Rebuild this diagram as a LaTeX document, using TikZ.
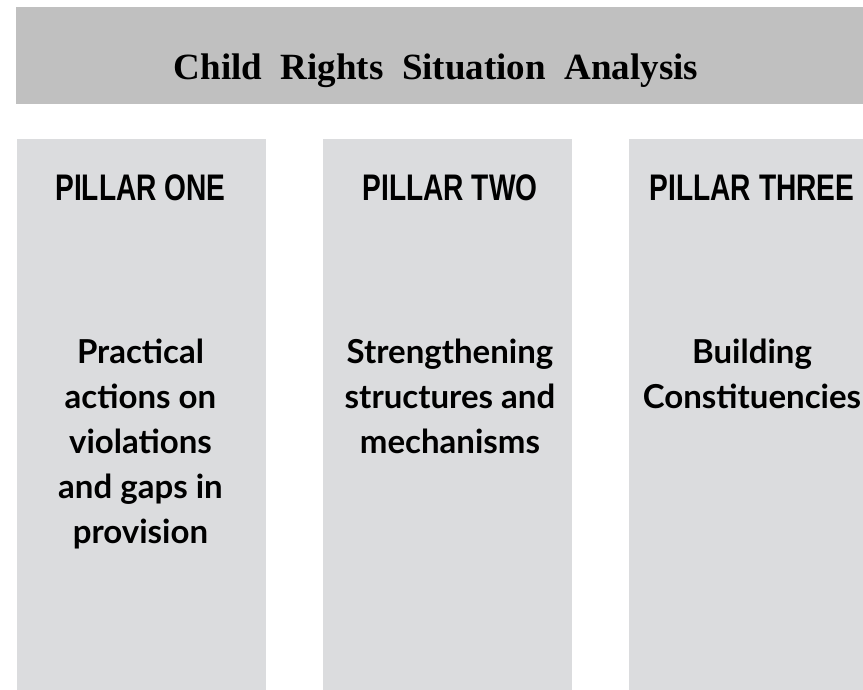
\documentclass[tikz,border=0pt]{standalone}
\usepackage{fontspec}
\usepackage{tikz}
\usetikzlibrary{positioning}
\newfontfamily\titlefont{Liberation Serif}
\newfontfamily\headfont[FakeStretch=0.76]{Liberation Sans}
\newfontfamily\bodyfont{Lato}
\definecolor{bannergray}{HTML}{C0C0C0}
\definecolor{pillargray}{HTML}{DBDCDE}

\begin{document}
\begin{tikzpicture}[x=1pt, y=-1pt,
        banner/.style={rectangle, fill=bannergray, inner sep=0pt, minimum width=864pt, minimum height=97pt},
        pillar/.style={rectangle, fill=pillargray, inner sep=0pt, minimum width=249pt, minimum height=553pt},
        head/.style={inner sep=0pt, anchor=base, font=\headfont\bfseries\fontsize{37}{37}\selectfont},
        body/.style={inner sep=0pt, anchor=north, align=center, font=\bodyfont\bfseries\fontsize{33}{45}\selectfont}]
        \useasboundingbox (0, 0) rectangle (863, 690);
        \node[banner, anchor=north west] (banner) at (16, 7) {};
        \node[inner sep=0pt, anchor=base, font=\titlefont\bfseries\fontsize{37}{37}\selectfont] (title) at (436, 80) {Child\ \ Rights\ \ Situation\ \ Analysis};
        % the three pillars
        \def\P{141.5/140.5/PILLAR ONE/{Practical\\actions on\\violations\\and gaps in\\provision},
               447.5/450/PILLAR TWO/{Strengthening\\structures and\\mechanisms},
               753.5/752/PILLAR THREE/{Building\\Constituencies}}
        \foreach \x/\h/\head/\body[count=\i from 1] in \P
        {
            \node[pillar, anchor=north] (pillar\i) at (\x, 139) {};
            \node[head] (head\i) at (\h, 201) {\head};
            \node[body] (body\i) at (\h, 339) {\body};
        }
    \end{tikzpicture}
\end{document}
